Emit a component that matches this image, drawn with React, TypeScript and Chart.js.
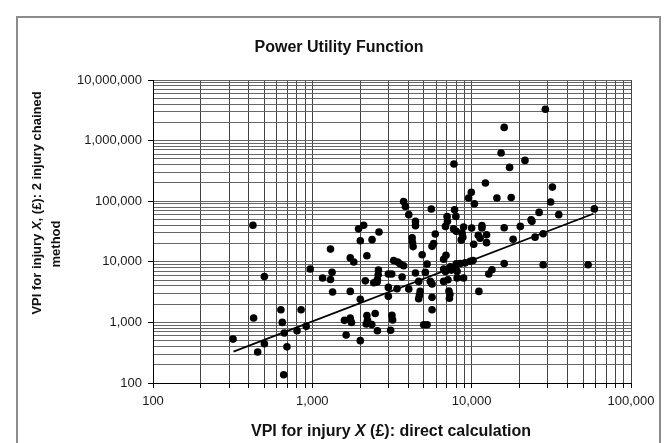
import React, { useEffect, useRef } from 'react';
import { Chart, registerables } from 'chart.js';
Chart.register(...registerables);

const FONT = "'Liberation Sans', Arial, sans-serif";

// VPI for injury X (£): direct calculation
const directCalc = [
  318, 428, 454, 500, 500, 424, 635, 648, 667, 693, 661, 802, 850, 916, 970,
  1160, 1300, 1330, 1300, 1340, 1730, 1820, 1730, 1590, 1730, 1760, 1630, 2000, 2000,
  1950, 2100, 2620, 2000, 2370, 2200,
  2150, 2430, 2550, 2600, 2590, 2560, 3000, 3150, 3240, 3430, 3560, 3740, 3000, 3400, 3000, 3660,
  2200, 2220, 2180, 2360, 2480, 2560, 3160, 3190, 3100,
  4030, 4650, 5500, 5640, 4440, 5120, 5250, 4890, 4750, 4700, 4650, 5640, 5640, 5000, 5250,
  3740, 3840, 4030, 4440, 4440, 4230, 4250, 4290, 5580, 5910, 5640, 5770,
  7740, 7810, 7960, 7010, 7050, 6850, 7700, 8000, 8700, 8800, 8600, 8900, 10000, 9950, 9570, 10400,
  11600, 11600, 11000, 11300, 12400, 12400, 10300, 12200, 14400, 17700, 15300, 16000, 29000, 21600,
  17300, 32100, 31300, 35200, 58900, 26500, 23600, 23900, 20200, 16000, 28100, 25000, 18200,
  6670, 6900, 6670, 6850, 7340, 7450, 7940, 8100, 8000, 8500, 9100, 9800, 10200,
  6670, 7100, 8100, 8900, 7200, 7300, 7250, 11100, 12800, 13400, 16000, 28100, 53800,
];

// VPI for injury X (£): 2 injury chained method
const chainedMethod = [
  530, 1180, 325, 445, 5700, 40000, 1620, 1000, 670, 395, 137, 730, 1620, 860, 7600,
  5400, 16200, 6700, 5100, 3180, 11600, 9900, 3250, 1080, 1180, 1000, 620, 500, 2400,
  35000, 40000, 31000, 22300, 23200, 12600,
  4850, 4500, 4650, 7300, 6100, 5100, 6300, 6300, 10500, 9900, 9200, 8630, 3780, 3600, 2690, 5610,
  1300, 1080, 940, 920, 1400, 730, 1310, 1100, 740,
  3560, 4750, 4750, 4300, 6530, 6680, 9200, 13100, 3250, 2790, 2460, 2590, 1620, 916, 916,
  99000, 82000, 60000, 46400, 39500, 25000, 21000, 17800, 74300, 28800, 18000, 20000,
  411000, 72400, 56100, 56000, 46500, 38400, 34900, 31900, 29700, 25500, 23000, 37500, 36100, 140000, 113000, 91000,
  39500, 36100, 27500, 24500, 28000, 20700, 19500, 200000, 113000, 115000, 624000, 1650000, 3300000, 471000,
  361000, 171000, 97000, 60000, 74600, 65300, 49500, 46500, 38400, 36500, 29000, 25500, 23500,
  11000, 12800, 7600, 6900, 8300, 7300, 7900, 6950, 9300, 9400, 9600, 10200, 10500,
  4750, 5070, 5400, 5400, 3300, 2900, 2500, 3250, 6300, 7400, 9400, 8950, 8950,
];

// Power trend line end points
const trendX = [320, 58000];
const trendY = [330, 62000];

const xDecades = [100, 1000, 10000, 100000];
const xDecadeLabels = ['100', '1,000', '10,000', '100,000'];
const yDecades = [100, 1000, 10000, 100000, 1000000, 10000000];
const yDecadeLabels = ['100', '1,000', '10,000', '100,000', '1,000,000', '10,000,000'];

const titleText = 'Power Utility Function';
const xTitleSegs: [string, boolean][] = [['VPI for injury ', false], ['X', true], [' (£): direct calculation', false]];
const yTitleSegs1: [string, boolean][] = [['VPI for injury ', false], ['X', true], [', (£): 2 injury chained', false]];
const yTitleSegs2: [string, boolean][] = [['method', false]];

function logTicks(decades: number[]) {
  const out: any[] = [];
  for (let i = 0; i < decades.length; i++) {
    const d = decades[i];
    out.push({ value: d, major: true });
    if (i < decades.length - 1) {
      for (let k = 2; k <= 9; k++) out.push({ value: d * k, major: false });
    }
  }
  return out;
}

function drawRich(ctx: CanvasRenderingContext2D, segs: [string, boolean][], cx: number, cy: number, size: number) {
  const fonts = segs.map(([, it]) => `${it ? 'italic ' : ''}bold ${size}px ${FONT}`);
  let total = 0;
  segs.forEach(([t], i) => { ctx.font = fonts[i]; total += ctx.measureText(t).width; });
  let x = cx - total / 2;
  ctx.textBaseline = 'middle';
  ctx.textAlign = 'left';
  segs.forEach(([t], i) => { ctx.font = fonts[i]; ctx.fillText(t, x, cy); x += ctx.measureText(t).width; });
}

const decorPlugin = {
  id: 'decor',
  afterDraw(chart: any) {
    const ctx: CanvasRenderingContext2D = chart.ctx;
    ctx.save();
    ctx.strokeStyle = '#8c8c8c';
    ctx.lineWidth = 2;
    ctx.strokeRect(17, 17, 643, 440);
    ctx.fillStyle = '#111';
    ctx.font = `bold 16px ${FONT}`;
    ctx.textAlign = 'center';
    ctx.textBaseline = 'middle';
    ctx.fillText(titleText, 339, 48);
    drawRich(ctx, xTitleSegs, 391, 432, 16);
    ctx.save();
    ctx.translate(37, 203);
    ctx.rotate(-Math.PI / 2);
    drawRich(ctx, yTitleSegs1, 0, 0, 13);
    ctx.restore();
    ctx.save();
    ctx.translate(56, 244);
    ctx.rotate(-Math.PI / 2);
    drawRich(ctx, yTitleSegs2, 0, 0, 13);
    ctx.restore();
    ctx.restore();
  },
};

export default function App() {
  const ref = useRef<HTMLCanvasElement>(null);
  useEffect(() => {
    document.body.style.margin = '0';
    const points = directCalc.map((x, i) => ({ x, y: chainedMethod[i] }));
    const trend = trendX.map((x, i) => ({ x, y: trendY[i] }));
    const chart = new Chart(ref.current as HTMLCanvasElement, {
      type: 'scatter',
      data: {
        datasets: [
          {
            type: 'line',
            data: trend,
            borderColor: '#000',
            borderWidth: 1.8,
            pointRadius: 0,
            showLine: true,
            fill: false,
            order: 2,
          } as any,
          {
            data: points,
            backgroundColor: '#000',
            borderWidth: 0,
            pointRadius: 3.8,
            order: 1,
          },
        ],
      },
      options: {
        responsive: false,
        animation: false,
        layout: { padding: { left: 0, right: 34, top: 80, bottom: 0 } },
        plugins: { legend: { display: false }, title: { display: false }, tooltip: { enabled: false } },
        scales: {
          x: {
            type: 'logarithmic',
            min: 100,
            max: 100000,
            afterBuildTicks: (s: any) => { s.ticks = logTicks(xDecades); },
            afterFit: (s: any) => { s.height = 60; },
            ticks: {
              autoSkip: false,
              maxRotation: 0,
              padding: 6,
              color: '#1a1a1a',
              font: { family: FONT, size: 13 },
              callback: (v: any) => { const i = xDecades.indexOf(Number(v)); return i >= 0 ? xDecadeLabels[i] : ''; },
            },
            grid: { color: '#444', lineWidth: 1, tickLength: 5, tickColor: '#000' },
            border: { color: '#000', width: 1 },
          },
          y: {
            type: 'logarithmic',
            min: 100,
            max: 10000000,
            afterBuildTicks: (s: any) => { s.ticks = logTicks(yDecades); },
            afterFit: (s: any) => { s.width = 153; },
            ticks: {
              autoSkip: false,
              padding: 6,
              color: '#1a1a1a',
              font: { family: FONT, size: 13 },
              callback: (v: any) => { const i = yDecades.indexOf(Number(v)); return i >= 0 ? yDecadeLabels[i] : ''; },
            },
            grid: {
              color: '#666',
              lineWidth: 1,
              tickLength: 5,
              tickColor: (c: any) => (c.tick && c.tick.major ? '#000' : 'rgba(0,0,0,0)'),
            },
            border: { color: '#000', width: 1 },
          },
        },
      },
      plugins: [decorPlugin],
    } as any);
    return () => chart.destroy();
  }, []);
  return <canvas ref={ref} width={665} height={443} style={{ display: 'block' }} />;
}
